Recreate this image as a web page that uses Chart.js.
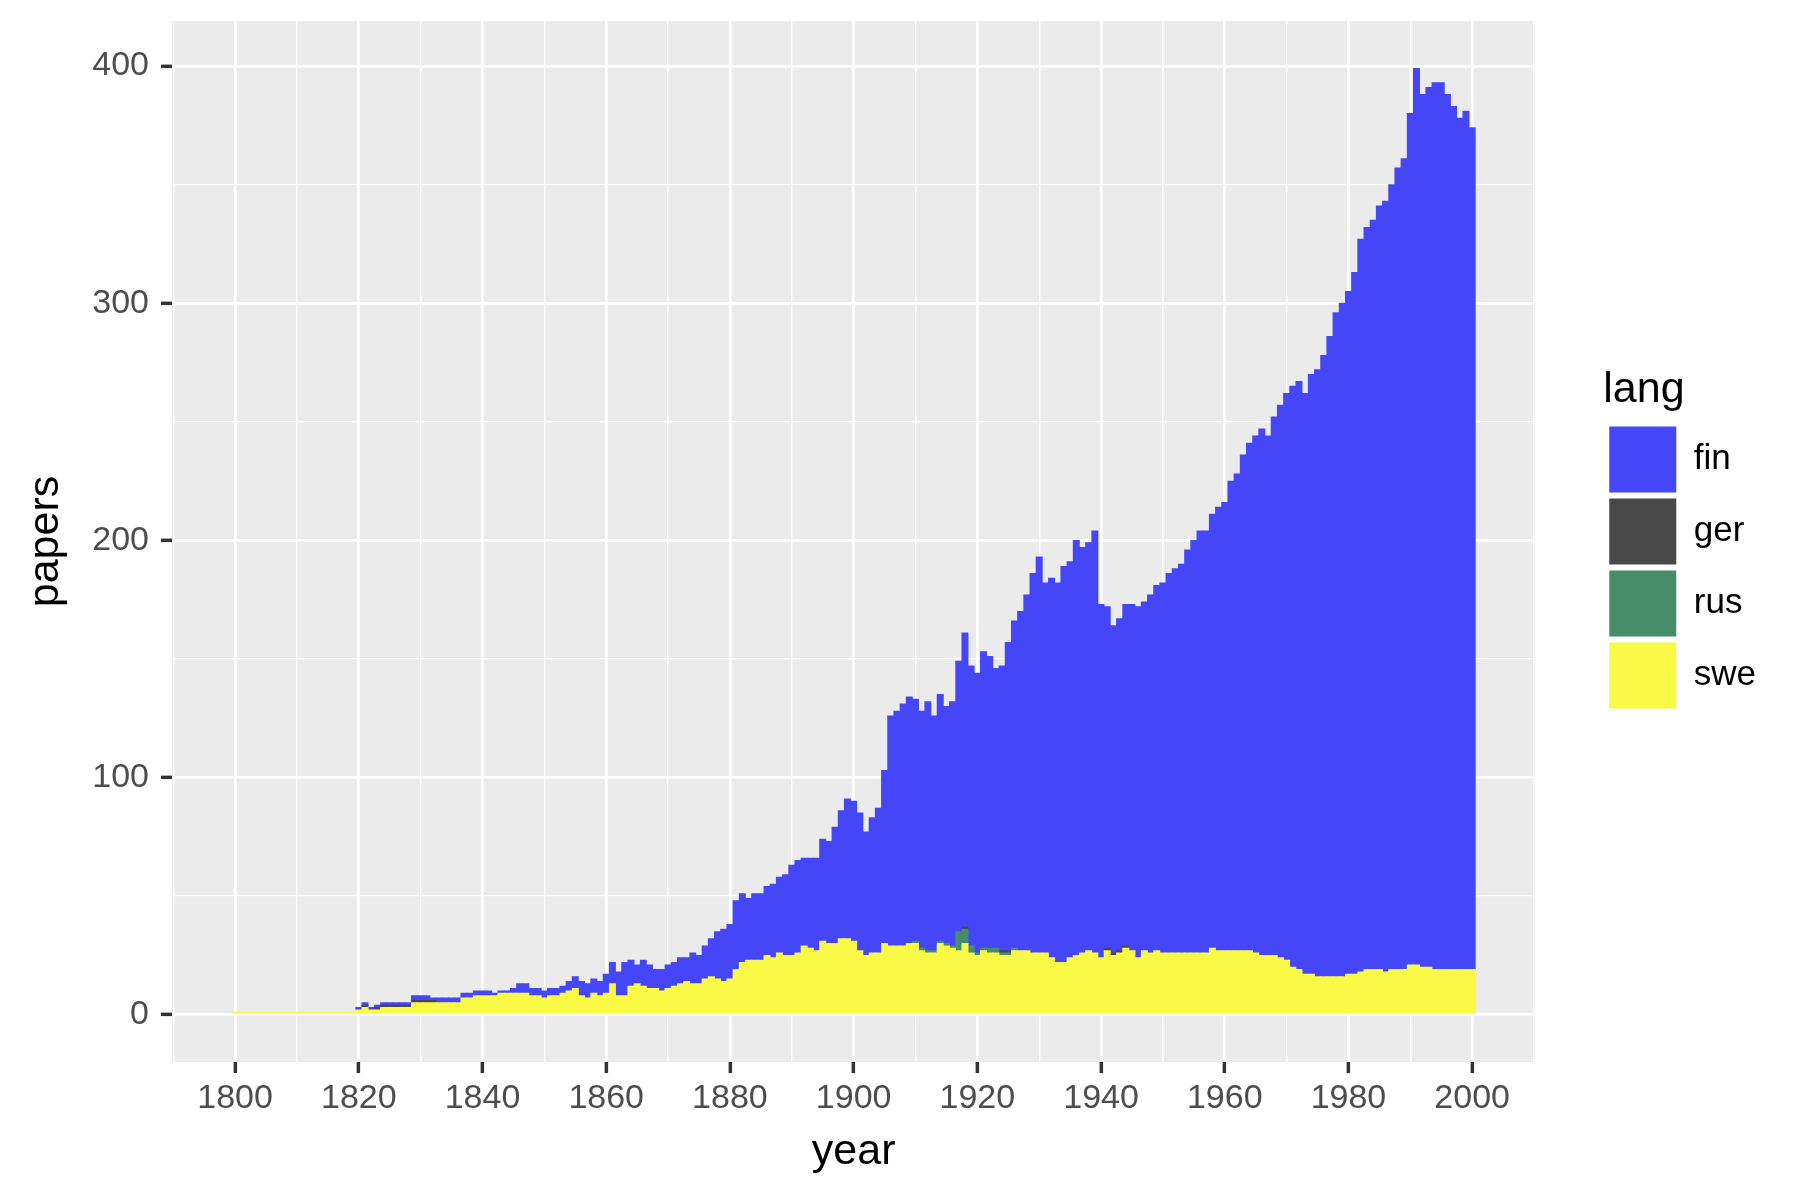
<!DOCTYPE html>
<html>
<head>
<meta charset="utf-8">
<title>papers by language</title>
<script src="https://cdn.jsdelivr.net/npm/chart.js@4.4.1/dist/chart.umd.min.js"></script>
<style>
  html, body { margin: 0; padding: 0; background: #ffffff; }
  #wrap { width: 1800px; height: 1200px; }
</style>
</head>
<body>
<div id="wrap"><canvas id="papersChart"></canvas></div>
<script>
// one value per year, 1800 .. 2000
const firstYear = 1800;
const years = Array.from({length: 201}, (_, i) => firstYear + i);

const swe = [
  1,1,1,1,1,1,1,1,1,1,          // 1800
  1,1,1,1,1,1,1,1,1,1,          // 1810
  2,3,2,2,3,3,3,3,3,5,          // 1820
  5,5,5,5,5,5,5,7,7,8,          // 1830
  8,8,8,9,9,9,9,9,8,8,          // 1840
  7,8,8,9,10,11,8,7,9,8,        // 1850
  9,13,8,8,12,13,12,11,11,10,   // 1860
  11,12,13,14,13,13,15,16,15,14,// 1870
  15,19,22,23,23,23,25,24,26,25,// 1880
  25,26,29,28,27,31,30,30,32,32,// 1890
  31,27,25,26,26,30,29,29,29,30,// 1900
  30,27,26,26,30,29,28,27,30,26,// 1910
  25,27,26,26,25,25,27,27,27,26,// 1920
  26,26,24,22,22,24,25,26,27,26,// 1930
  24,27,25,26,28,27,24,27,26,27,// 1940
  26,26,26,26,26,26,26,26,28,27,// 1950
  27,27,27,27,27,26,25,25,25,24,// 1960
  23,20,19,17,17,16,16,16,16,16,// 1970
  17,17,18,19,19,19,18,19,19,19,// 1980
  21,21,20,20,19,19,19,19,19,19,// 1990
  19                            // 2000
];

const rus = [
  0,0,0,0,0,0,0,0,0,0, 0,0,0,0,0,0,0,0,0,0,   // 1800
  0,0,0,0,0,0,0,0,0,0, 0,0,0,0,0,0,0,0,0,0,   // 1820
  0,0,0,0,0,0,0,0,0,0, 0,0,0,0,0,0,0,0,0,0,   // 1840
  0,0,0,0,0,0,0,0,0,0, 0,0,0,0,0,0,0,0,0,0,   // 1860
  0,0,0,0,0,0,0,0,0,0, 0,0,0,0,0,0,0,0,0,0,   // 1880
  0,0,0,0,0,0,0,0,0,0, 1,1,1,1,1,1,1,8,6,3,   // 1900
  1,1,2,2,1,1,1,0,0,0, 0,0,0,0,0,0,0,0,0,0,   // 1920
  0,0,0,0,0,0,0,0,0,0, 0,0,0,0,0,0,0,0,0,0,   // 1940
  0,0,0,0,0,0,0,0,0,0, 0,0,0,0,0,0,0,0,0,0,   // 1960
  0,0,0,0,0,0,0,0,0,0, 0,0,0,0,0,0,0,0,0,0,   // 1980
  0                                           // 2000
];

const ger = [
  0,0,0,0,0,0,0,0,0,0, 0,0,0,0,0,0,0,0,0,0,   // 1800
  0,1,0,1,1,1,1,1,1,1, 1,1,1,0,0,0,0,0,0,0,   // 1820
  0,0,0,0,0,0,0,0,0,0, 0,0,0,0,0,0,0,0,0,0,   // 1840
  0,0,0,0,0,0,0,0,0,0, 0,0,0,0,0,0,0,0,0,0,   // 1860
  0,0,0,0,0,0,0,0,0,0, 0,0,0,0,0,0,0,0,0,0,   // 1880
  0,0,0,0,0,0,0,0,0,0, 0,0,0,0,0,0,0,0,1,0,   // 1900
  0,0,0,0,1,1,0,0,0,0, 0,0,0,0,0,0,0,0,0,0,   // 1920
  0,1,1,1,1,0,0,0,0,0, 0,0,0,0,0,0,0,0,0,0,   // 1940
  0,0,0,0,0,0,0,0,0,0, 0,0,0,0,0,0,0,0,0,0,   // 1960
  0,0,0,0,0,0,0,0,0,0, 0,0,0,0,0,0,0,0,0,0,   // 1980
  0                                           // 2000
];

const fin = [
  0,0,0,0,0,0,0,0,0,0,                    // 1800
  0,0,0,0,0,0,0,0,0,0,                    // 1810
  1,1,1,1,1,1,1,1,1,2,                    // 1820
  2,2,1,2,2,2,2,2,2,2,                    // 1830
  2,2,1,1,1,2,4,4,3,3,                    // 1840
  3,3,3,3,4,5,6,6,6,6,                    // 1850
  8,9,10,14,11,8,11,10,8,9,               // 1860
  10,10,11,10,13,12,14,16,20,22,          // 1870
  23,29,29,26,28,28,29,31,32,34,          // 1880
  38,39,37,38,39,43,43,49,54,59,          // 1890
  59,58,52,57,61,73,97,99,102,104,        // 1900
  102,100,105,99,104,100,103,114,124,118, // 1910
  118,125,123,118,120,130,138,143,150,160,// 1920
  167,156,160,160,167,167,175,171,172,178,// 1930
  149,144,138,140,144,146,148,147,151,154,// 1940
  156,160,162,164,170,174,178,178,183,187,// 1950
  189,198,201,209,214,218,222,219,227,233,// 1960
  239,245,248,245,253,256,262,270,280,284,// 1970
  288,296,309,313,316,322,325,331,338,342,// 1980
  359,378,368,371,374,374,369,364,359,362,// 1990
  355                                     // 2000
];

// grid breaks (labels only on the major ones)
const xGrid = [1790, 1800, 1810, 1820, 1830, 1840, 1850, 1860, 1870, 1880, 1890,
               1900, 1910, 1920, 1930, 1940, 1950, 1960, 1970, 1980, 1990, 2000, 2010];
const xLabels = [1800, 1820, 1840, 1860, 1880, 1900, 1920, 1940, 1960, 1980, 2000];
const yGrid = [0, 50, 100, 150, 200, 250, 300, 350, 400];
const yLabels = [0, 100, 200, 300, 400];

const fontFamily = "'Liberation Sans', Arial, Helvetica, sans-serif";

// zero counts are left out so no sliver is drawn for them
function toPoints(values) {
    return years.map((yr, i) => ({x: yr, y: values[i] === 0 ? null : values[i]}));
}

// no extra room for half tick labels, the panel edges are set by hand
function noScalePadding(scale) {
    scale.paddingTop = 0;
    scale.paddingBottom = 0;
    scale.paddingLeft = 0;
    scale.paddingRight = 0;
}

// grey panel behind the bars, like ggplot
const panelBackground = {
    id: 'panelBackground',
    beforeDraw(chart) {
        const {ctx, chartArea} = chart;
        ctx.save();
        ctx.fillStyle = '#EBEBEB';
        ctx.fillRect(chartArea.left, chartArea.top, chartArea.right - chartArea.left, chartArea.bottom - chartArea.top);
        ctx.restore();
    }
};

const ctx = document.getElementById('papersChart').getContext('2d');
new Chart(ctx, {
    type: 'bar',
    data: {
        datasets: [
            {label: 'swe', data: toPoints(swe), backgroundColor: 'rgb(249, 249, 70)', borderColor: 'rgb(249, 249, 70)'},
            {label: 'rus', data: toPoints(rus), backgroundColor: 'rgb(71, 141, 106)', borderColor: 'rgb(71, 141, 106)'},
            {label: 'ger', data: toPoints(ger), backgroundColor: 'rgb(72, 72, 72)', borderColor: 'rgb(72, 72, 72)'},
            {label: 'fin', data: toPoints(fin), backgroundColor: 'rgb(70, 70, 249)', borderColor: 'rgb(70, 70, 249)'}
        ]
    },
    options: {
        responsive: true,
        maintainAspectRatio: false,
        animation: false,
        layout: {padding: {top: 21, right: 34, bottom: 0, left: 0}},
        datasets: {
            bar: {barPercentage: 1, categoryPercentage: 1, borderWidth: 0, inflateAmount: 0.4}
        },
        scales: {
            x: {
                type: 'linear',
                stacked: true,
                offset: false,
                min: 1789.8,
                max: 2010.2,
                afterBuildTicks: scale => { scale.ticks = xGrid.map(v => ({value: v})); },
                afterFit: scale => { scale.height = 138; noScalePadding(scale); },
                border: {display: false},
                grid: {
                    offset: false,
                    color: '#FFFFFF',
                    lineWidth: c => (c.tick && c.tick.value % 20 === 0) ? 2.7 : 1.35,
                    tickLength: 11,
                    tickWidth: 3.5,
                    tickColor: c => (c.tick && xLabels.includes(c.tick.value)) ? '#333333' : 'rgba(0,0,0,0)'
                },
                ticks: {
                    autoSkip: false,
                    maxRotation: 0,
                    padding: 5,
                    color: '#4D4D4D',
                    font: {family: fontFamily, size: 34},
                    callback: v => xLabels.includes(v) ? String(v) : ''
                },
                title: {
                    display: true,
                    text: 'year',
                    color: '#000000',
                    font: {family: fontFamily, size: 43},
                    padding: {top: 0, bottom: 22}
                }
            },
            y: {
                type: 'linear',
                stacked: true,
                min: -20,
                max: 419,
                afterBuildTicks: scale => { scale.ticks = yGrid.map(v => ({value: v})); },
                afterFit: scale => { scale.width = 172; noScalePadding(scale); },
                border: {display: false},
                grid: {
                    color: '#FFFFFF',
                    lineWidth: c => (c.tick && c.tick.value % 100 === 0) ? 2.7 : 1.35,
                    tickLength: 11,
                    tickWidth: 3.5,
                    tickColor: c => (c.tick && yLabels.includes(c.tick.value)) ? '#333333' : 'rgba(0,0,0,0)'
                },
                ticks: {
                    padding: 12,
                    color: '#4D4D4D',
                    font: {family: fontFamily, size: 34},
                    callback: v => yLabels.includes(v) ? String(v) : ''
                },
                title: {
                    display: true,
                    text: 'papers',
                    color: '#000000',
                    font: {family: fontFamily, size: 43},
                    padding: {top: 20, bottom: 0}
                }
            },
            // empty axis, only keeps the legend away from the panel
            gap: {
                type: 'linear',
                position: 'right',
                display: true,
                grid: {display: false},
                border: {display: false},
                ticks: {display: false},
                afterFit: scale => { scale.width = 68; noScalePadding(scale); }
            }
        },
        plugins: {
            legend: {
                position: 'right',
                align: 'start',
                reverse: true,
                title: {
                    display: true,
                    text: 'lang',
                    position: 'start',
                    color: '#000000',
                    font: {family: fontFamily, size: 43},
                    padding: {top: 348, bottom: 0}
                },
                labels: {
                    boxWidth: 67,
                    boxHeight: 66,
                    padding: 6,
                    color: '#000000',
                    font: {family: fontFamily, size: 35}
                }
            },
            tooltip: {enabled: false}
        }
    },
    plugins: [panelBackground]
});
</script>
</body>
</html>
